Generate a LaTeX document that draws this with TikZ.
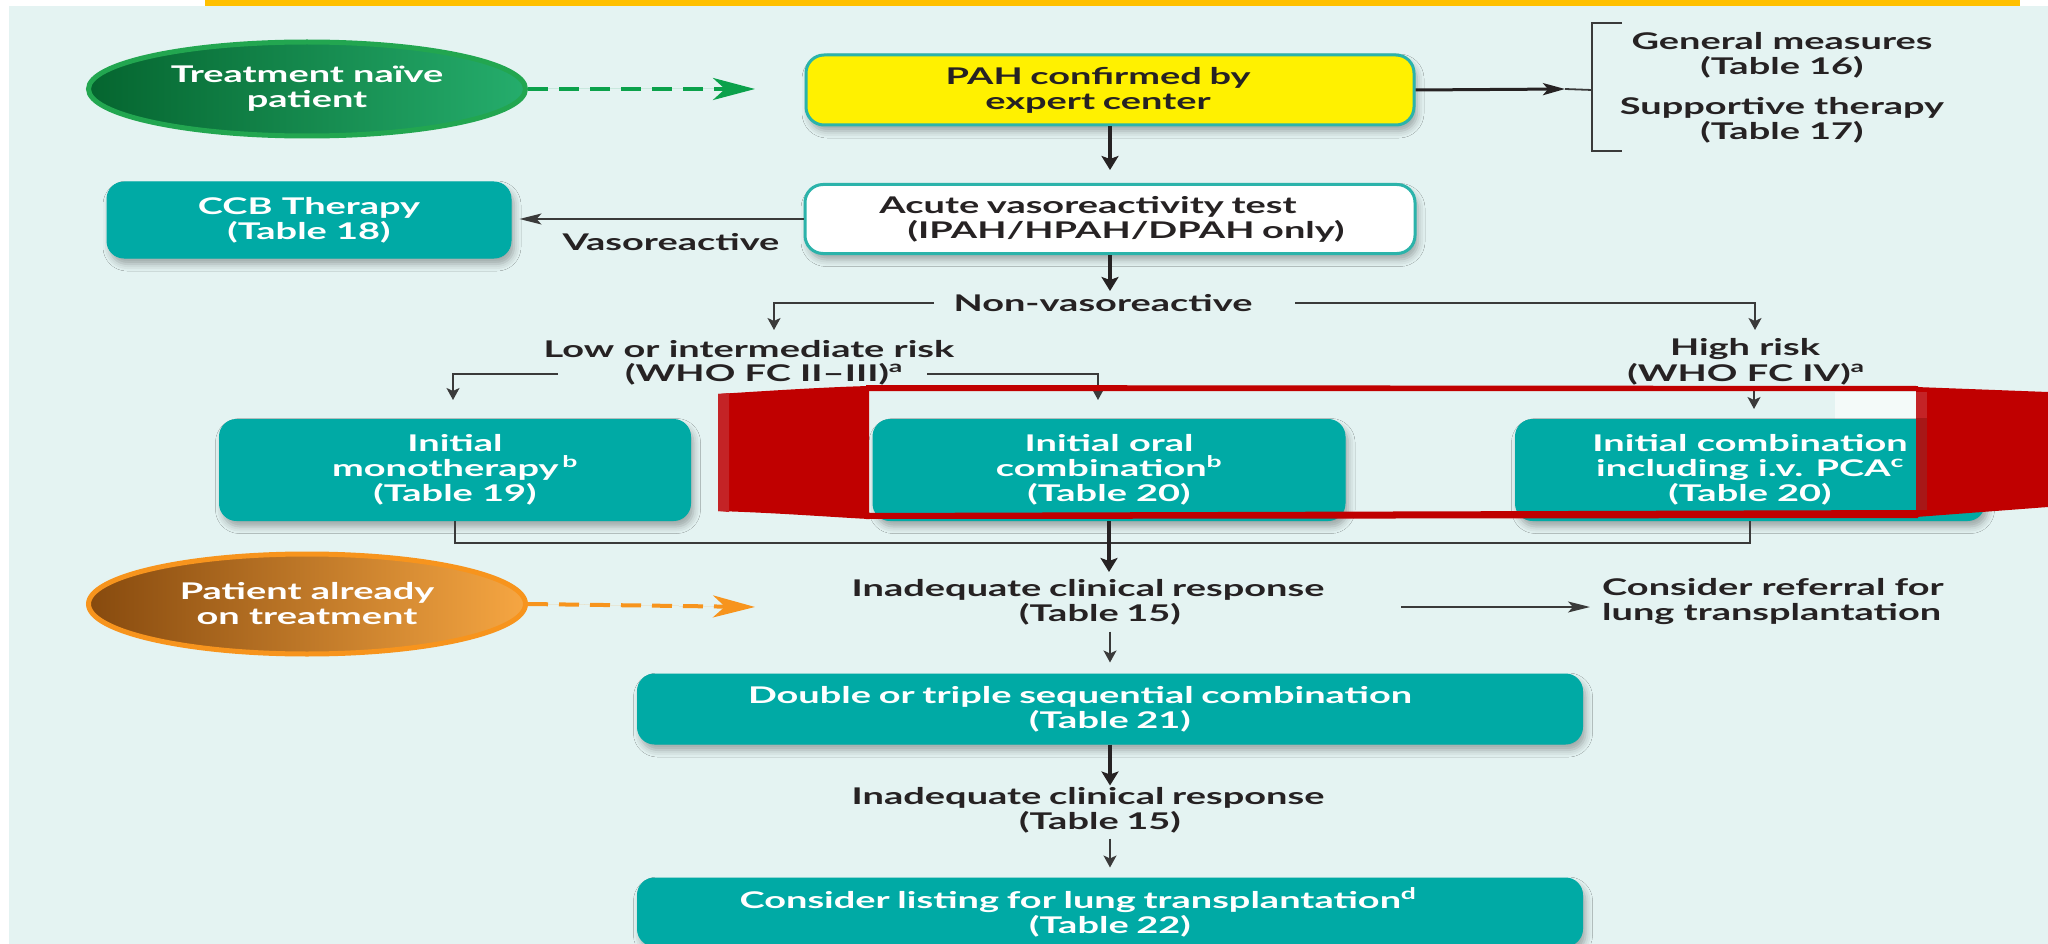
\documentclass[tikz,border=0pt]{standalone}
\usepackage{fontspec}
\setmainfont{Lato}[FakeStretch=1.65]
\usetikzlibrary{arrows.meta,shadows.blur,shapes.geometric}
\definecolor{bgteal}{HTML}{E4F3F2}
\definecolor{topbar}{HTML}{FFC000}
\definecolor{boxteal}{HTML}{00AAA5}
\definecolor{bordteal}{HTML}{2BB3AA}
\definecolor{pahyellow}{HTML}{FFF100}
\definecolor{ink}{HTML}{262223}
\definecolor{lineink}{HTML}{3A3A3A}
\definecolor{hlred}{HTML}{C00000}
\definecolor{hlstripe}{HTML}{C42326}
\definecolor{hldark}{HTML}{A71717}
\definecolor{gdark}{HTML}{05652F}
\definecolor{glight}{HTML}{25AD6C}
\definecolor{gborder}{HTML}{22A650}
\definecolor{gdash}{HTML}{0BA14B}
\definecolor{odark}{HTML}{874A0E}
\definecolor{olight}{HTML}{F6A642}
\definecolor{oborder}{HTML}{F7941D}
\tikzset{
  txt/.style={font=\fontsize{23pt}{25pt}\selectfont\bfseries, align=center},
  lbl/.style={txt, text=ink, inner sep=0pt},
  boxshadow/.style={blur shadow={shadow xshift=3pt, shadow yshift=-6pt, shadow blur radius=7pt, shadow opacity=32}},
  tealbox/.style={txt, draw=boxteal, fill=boxteal, text=white, line width=1pt, rounded corners=17pt, boxshadow},
  outlinebox/.style={txt, draw=bordteal, line width=3pt, rounded corners=18pt, text=ink, boxshadow},
  startoval/.style={ellipse, txt, text=white, line width=5pt},
  thickarrow/.style={draw=ink, line width=3.4pt, -{Stealth[length=14pt,width=17pt,inset=3pt]}},
  thinarrowv/.style={draw=lineink, line width=1.8pt, -{Stealth[length=12pt,width=13pt,inset=3pt]}},
  thinarrowh/.style={draw=lineink, line width=1.8pt, -{Stealth[length=22pt,width=11pt,inset=5pt]}},
  thinline/.style={draw=lineink, line width=1.8pt},
  dasharrow/.style={line width=4pt, dash pattern=on 20pt off 11pt, -{Stealth[length=42pt,width=22pt,inset=12pt]}},
}
\begin{document}
\begin{tikzpicture}[x=1pt,y=-1pt]
\clip (0,0) rectangle (2048,944);
% background
\fill[white] (0,0) rectangle (2048,944);
\fill[bgteal] (9,6) rectangle (2048,944);
\fill[topbar] (205,0) rectangle (2020,6);
\fill[white, opacity=0.6] (1835,392) rectangle (1916,420);

% start ovals
\node[startoval, minimum width=437pt, minimum height=94pt, left color=gdark, right color=glight, draw=gborder] (naive) at (307,89) {Treatment na\"ive\\patient};
\node[startoval, minimum width=437pt, minimum height=100pt, left color=odark, right color=olight, draw=oborder] (already) at (307,604) {Patient already\\on treatment};

% boxes
\node[outlinebox, fill=pahyellow, minimum width=608pt, minimum height=70pt, text width=590pt] (pah) at (1110,90) {\hspace*{-24pt}PAH confirmed by\\\hspace*{-24pt}expert center};
\node[outlinebox, fill=white, minimum width=610pt, minimum height=69pt, text width=590pt] (avt) at (1110,219) {\hspace*{-44pt}Acute vasoreactivity test\\\hspace*{32pt}(IPAH/HPAH/DPAH only)};
\node[tealbox, minimum width=404pt, minimum height=76pt] (ccb) at (309,220) {CCB Therapy\\(Table 18)};
\node[tealbox, minimum width=471pt, minimum height=101pt] (mono) at (455,470) {Initial\\monotherapy\,\textsuperscript{b}\\(Table 19)};
\node[tealbox, minimum width=472pt, minimum height=101pt] (oral) at (1109,470) {Initial oral\\combination\textsuperscript{b}\\(Table 20)};
\node[tealbox, minimum width=469pt, minimum height=101pt] (pca) at (1750,470) {Initial combination\\including i.v. PCA\textsuperscript{c}\\(Table 20)};
\node[tealbox, minimum width=945pt, minimum height=70pt, text width=920pt] (double) at (1110,709) {\hspace*{-60pt}Double or triple sequential combination\\(Table 21)};
\node[tealbox, minimum width=945pt, minimum height=68pt, text width=920pt] (listing) at (1110,912) {\hspace*{-64pt}Consider listing for lung transplantation\textsuperscript{d}\\(Table 22)};

% labels
\node[lbl] (gen) at (1782,55) {General measures\\(Table 16)};
\node[lbl] (supp) at (1782,120) {Supportive therapy\\(Table 17)};
\node[lbl] (vaso) at (671,242) {Vasoreactive};
\node[lbl] (nonv) at (1103,303) {Non-vasoreactive};
\node[lbl] (low1) at (749,349) {Low or intermediate risk};
\node[lbl] (low2) at (764,374) {(WHO FC II--III)\textsuperscript{a}};
\node[lbl] (high1) at (1745,349) {High risk};
\node[lbl] (high2) at (1746,374) {(WHO FC IV)\textsuperscript{a}};
\node[lbl, text width=600pt] (inad1) at (1100,602) {\hspace*{-24pt}Inadequate clinical response\\(Table 15)};
\node[lbl, align=left, anchor=west] (refer) at (1602,602) {Consider referral for\\lung transplantation};
\node[lbl, text width=600pt] (inad2) at (1100,810) {\hspace*{-24pt}Inadequate clinical response\\(Table 15)};

% coordinates for free ends
\coordinate (brT) at (1622,23);
\coordinate (brTL) at (1592,23);
\coordinate (brBL) at (1592,151);
\coordinate (brB) at (1622,151);
\coordinate (brTip) at (1565,89);
\coordinate (nvL) at (934,303);
\coordinate (nvLd) at (774,330);
\coordinate (nvR) at (1295,303);
\coordinate (nvRd) at (1755,330);
\coordinate (lwL) at (558,374);
\coordinate (lwR) at (927,374);
\coordinate (oralIn) at (1098,400);
\coordinate (monoIn) at (453,400);
\coordinate (hiTop) at (1754,386);
\coordinate (jn) at (1111,543);
\coordinate (gTip) at (755,89);
\coordinate (oTip) at (755,607);
\coordinate (refL) at (1401,607);
\coordinate (refTip) at (1590,607);

% connectors
\draw[dasharrow, draw=gdash, fill=gdash] (naive.east) -- (gTip);
\draw[dasharrow, draw=oborder, fill=oborder] (already.east) -- (oTip);
\draw[thickarrow, line width=3pt, -{Stealth[length=22pt,width=12pt,inset=5pt]}] (pah.east) -- (brTip);
\draw[thinline] (brTip) -- (pah.east -| brTL);
\draw[thinline] (brT) -- (brTL) -- (brBL) -- (brB);
\draw[thickarrow, shorten >=13pt] (pah.south) -- (avt.north);
\draw[thinarrowh, shorten >=8pt] (avt.west) -- (avt.west -| ccb.east);
\draw[thickarrow] (avt.south) -- ++(0,36);
\draw[thinarrowv] (nvL) -| (nvLd);
\draw[thinarrowv] (nvR) -| (nvRd);
\draw[thinarrowv] (lwL) -| (monoIn);
\draw[thinarrowv] (lwR) -| (oralIn);
\draw[thinarrowv, shorten >=10pt] (hiTop) -- (hiTop |- pca.north);
\draw[thinline] (mono.south) |- (jn) -| (pca.south);
\draw[thickarrow] (oral.south) -- ++(0,51);
\draw[thinarrowh] (refL) -- (refTip);
\draw[thinarrowv] (double.north) ++(0,-42) -- ++(0,31);
\draw[thickarrow] (double.south) -- ++(0,41);
\draw[thinarrowv] (listing.north) ++(0,-39) -- ++(0,29);

% red highlight
\fill[hlred] (718,394) .. controls (780,390) and (830,387) .. (869,386) -- (869,519) .. controls (830,517) and (780,513) .. (718,511) -- cycle;
\fill[hlstripe] (718,394) -- (729,393) -- (729,512) -- (718,511) -- cycle;
\fill[hlred] (866,385) -- (1918,386) -- (1918,391) -- (866,391) -- cycle;
\fill[hlred] (866,513) -- (1918,510) -- (1918,518) -- (866,519) -- cycle;
\fill[hlred] (1916,387) -- (2048,392) -- (2048,507) -- (1916,517) -- cycle;
\fill[hlstripe] (1916,392) rectangle (1927,418);
\fill[hldark] (1916,418) rectangle (1927,510);
\end{tikzpicture}
\end{document}
